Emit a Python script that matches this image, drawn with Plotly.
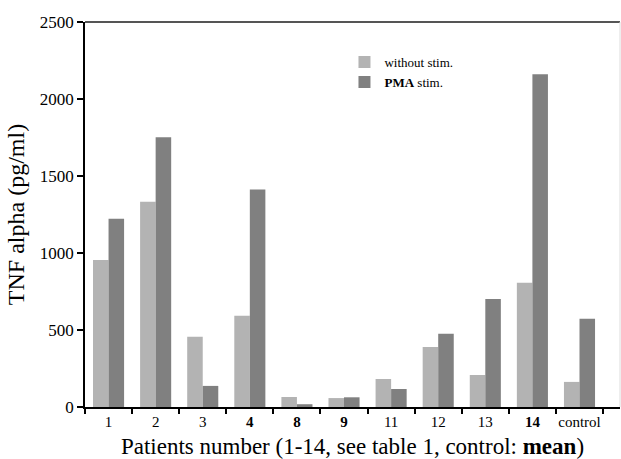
import plotly.graph_objects as go

categories = ["1", "2", "3", "4", "8", "9", "11", "12", "13", "14", "control"]
tick_labels = ["1", "2", "3", "<b>4</b>", "<b>8</b>", "<b>9</b>", "11", "12", "13", "<b>14</b>", "control"]
without_stim = [955, 1333, 456, 592, 65, 58, 182, 390, 208, 807, 163]
pma_stim = [1222, 1751, 137, 1412, 18, 63, 117, 475, 702, 2161, 573]

FONT = "Liberation Serif"

fig = go.Figure()
fig.add_trace(go.Bar(x=categories, y=without_stim, name="without stim.",
                     marker=dict(color="#b3b3b3", line=dict(width=0))))
fig.add_trace(go.Bar(x=categories, y=pma_stim, name="<b>PMA</b> stim.",
                     marker=dict(color="#808080", line=dict(width=0))))

fig.update_layout(
    width=621, height=459,
    margin=dict(l=85, r=1, t=22, b=52, autoexpand=False),
    paper_bgcolor="white", plot_bgcolor="white",
    barmode="group", bargap=0.34, bargroupgap=0,
    font=dict(family=FONT, color="black"),
    showlegend=True,
    legend=dict(x=0.485, y=0.935, xanchor="left", yanchor="top",
                font=dict(size=13, family=FONT), bgcolor="rgba(0,0,0,0)",
                itemwidth=30, tracegroupgap=0),
    xaxis=dict(
        type="category",
        range=[-0.5, 10.86],
        tickvals=categories, ticktext=tick_labels, tickangle=0,
        tickson="boundaries", ticks="outside", ticklen=5, tickwidth=1.5, tickcolor="black",
        showline=True, linecolor="black", linewidth=2,
        tickfont=dict(size=15, family=FONT),
        title=dict(text="Patients number (1-14, see table 1, control: <b>mean</b>)",
                   font=dict(size=23, family=FONT), standoff=11),
        showgrid=False, zeroline=False, automargin=False,
    ),
    yaxis=dict(
        range=[0, 2500],
        tickvals=[0, 500, 1000, 1500, 2000, 2500],
        ticks="outside", ticklen=6, tickwidth=1.5, tickcolor="black",
        showline=True, linecolor="black", linewidth=1.5,
        tickfont=dict(size=17, family=FONT),
        title=dict(text="TNF alpha (pg/ml)", font=dict(size=24, family=FONT), standoff=8),
        showgrid=False, zeroline=False, automargin=False,
    ),
    shapes=[
        dict(type="line", xref="paper", yref="paper", x0=0, x1=1, y0=1, y1=1,
             line=dict(color="#555555", width=2)),
        dict(type="line", xref="paper", yref="paper", x0=1, x1=1, y0=0, y1=1,
             line=dict(color="#dddddd", width=1)),
    ],
)

fig.write_html("out.html", config={"displayModeBar": False},
               post_script="document.body.style.margin='0';document.body.style.overflow='hidden';")
